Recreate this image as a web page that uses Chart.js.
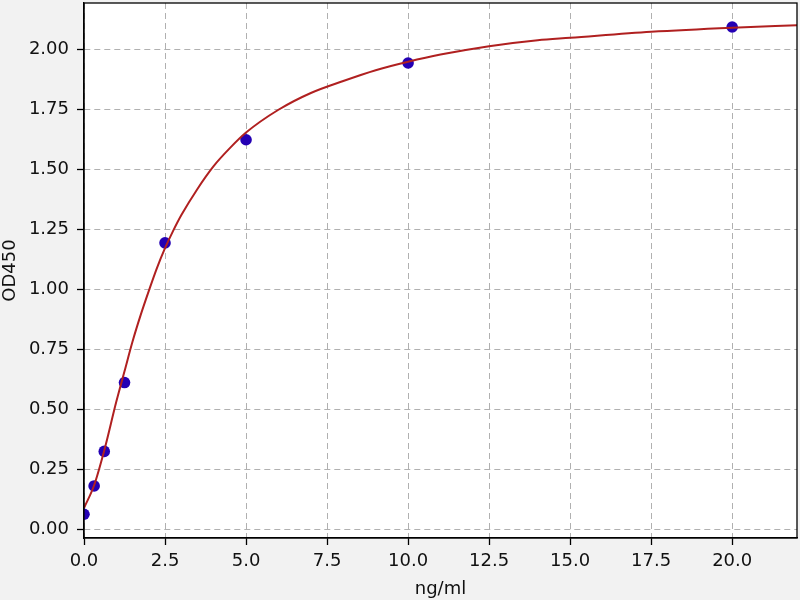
<!DOCTYPE html>
<html>
<head>
<meta charset="utf-8">
<script src="https://cdn.jsdelivr.net/npm/chart.js@4"></script>
<style>
  html, body { margin: 0; padding: 0; background: #f2f2f2; }
  #wrap { width: 800px; height: 600px; }
</style>
</head>
<body>
<div id="wrap"><canvas id="curve" width="800" height="600"></canvas></div>
<script>
// standard points (ng/ml -> OD450)
const stdConc = [0, 0.3125, 0.625, 1.25, 2.5, 5, 10, 20];
const stdOD = [0.064, 0.182, 0.326, 0.613, 1.195, 1.625, 1.945, 2.095];

// fitted curve
const fitConc = [0, 0.3125, 0.625, 1.0, 1.25, 1.5, 1.75, 2.0, 2.25, 2.5, 2.75, 3.0, 3.5, 4.0, 4.5, 5.0, 6.0, 7.0, 8.0, 9.0, 10, 11, 12.5, 14, 15, 17.5, 20, 22];
const fitOD = [0.09, 0.185, 0.33, 0.535, 0.66, 0.785, 0.895, 0.995, 1.09, 1.173, 1.245, 1.31, 1.42, 1.515, 1.59, 1.655, 1.75, 1.82, 1.87, 1.915, 1.95, 1.98, 2.015, 2.04, 2.05, 2.075, 2.092, 2.102];

// tick labels
const xTicks = [0, 2.5, 5, 7.5, 10, 12.5, 15, 17.5, 20];
const yTicks = [0, 0.25, 0.5, 0.75, 1.0, 1.25, 1.5, 1.75, 2.0];

const font = { family: 'DejaVu Sans', size: 18 };

// white plot area + full black frame like matplotlib
const framePlugin = {
  id: 'frame',
  beforeDraw(chart) {
    const a = chart.chartArea;
    const c = chart.ctx;
    c.save();
    c.fillStyle = '#ffffff';
    c.fillRect(a.left, a.top, a.right - a.left, a.bottom - a.top);
    c.restore();
  },
  afterDraw(chart) {
    const a = chart.chartArea;
    const c = chart.ctx;
    c.save();
    c.strokeStyle = '#000';
    c.lineWidth = 1.3;
    c.strokeRect(a.left, a.top, a.right - a.left, a.bottom - a.top);
    c.restore();
  }
};

const ctx = document.getElementById('curve').getContext('2d');
new Chart(ctx, {
  type: 'scatter',
  data: {
    datasets: [
      {
        label: 'fit',
        data: fitConc.map((x, i) => ({ x: x, y: fitOD[i] })),
        showLine: true,
        borderColor: '#b02020',
        borderWidth: 2,
        pointRadius: 0,
        cubicInterpolationMode: 'monotone',
        order: 0
      },
      {
        label: 'standards',
        data: stdConc.map((x, i) => ({ x: x, y: stdOD[i] })),
        backgroundColor: '#2400b4',
        borderColor: '#2400b4',
        pointRadius: 5.8,
        borderWidth: 0,
        order: 1
      }
    ]
  },
  options: {
    responsive: false,
    animation: false,
    devicePixelRatio: 1,
    layout: { autoPadding: false, padding: { top: 3, right: 3, left: 0, bottom: 0 } },
    plugins: {
      legend: { display: false },
      tooltip: { enabled: false }
    },
    scales: {
      x: {
        type: 'linear',
        min: 0,
        max: 22,
        afterBuildTicks: (scale) => { scale.ticks = xTicks.map(v => ({ value: v })); },
        afterFit: (scale) => { scale.height = 62; scale.paddingLeft = 0; scale.paddingRight = 0; },
        ticks: {
          font: font,
          color: '#111',
          padding: 6,
          maxRotation: 0,
          callback: (v) => v.toFixed(1)
        },
        grid: {
          color: '#b0b0b0',
          lineWidth: 1,
          drawTicks: true,
          tickLength: 7,
          tickColor: '#000',
          tickWidth: 1.3,
          tickBorderDash: []
        },
        border: { display: true, color: '#000', width: 1.3, dash: [6, 4] },
        title: { display: true, text: 'ng/ml', font: font, color: '#111', padding: { top: 0, bottom: 0 } }
      },
      y: {
        type: 'linear',
        min: -0.035,
        max: 2.195,
        afterBuildTicks: (scale) => { scale.ticks = yTicks.map(v => ({ value: v })); },
        afterFit: (scale) => { scale.width = 84; scale.paddingTop = 0; scale.paddingBottom = 0; },
        ticks: {
          font: font,
          color: '#111',
          padding: 8,
          callback: (v) => v.toFixed(2)
        },
        grid: {
          color: '#b0b0b0',
          lineWidth: 1,
          drawTicks: true,
          tickLength: 7,
          tickColor: '#000',
          tickWidth: 1.3,
          tickBorderDash: []
        },
        border: { display: true, color: '#000', width: 1.3, dash: [6, 4] },
        title: { display: true, text: 'OD450', font: font, color: '#111', padding: 0 }
      }
    }
  },
  plugins: [framePlugin]
});
</script>
</body>
</html>
